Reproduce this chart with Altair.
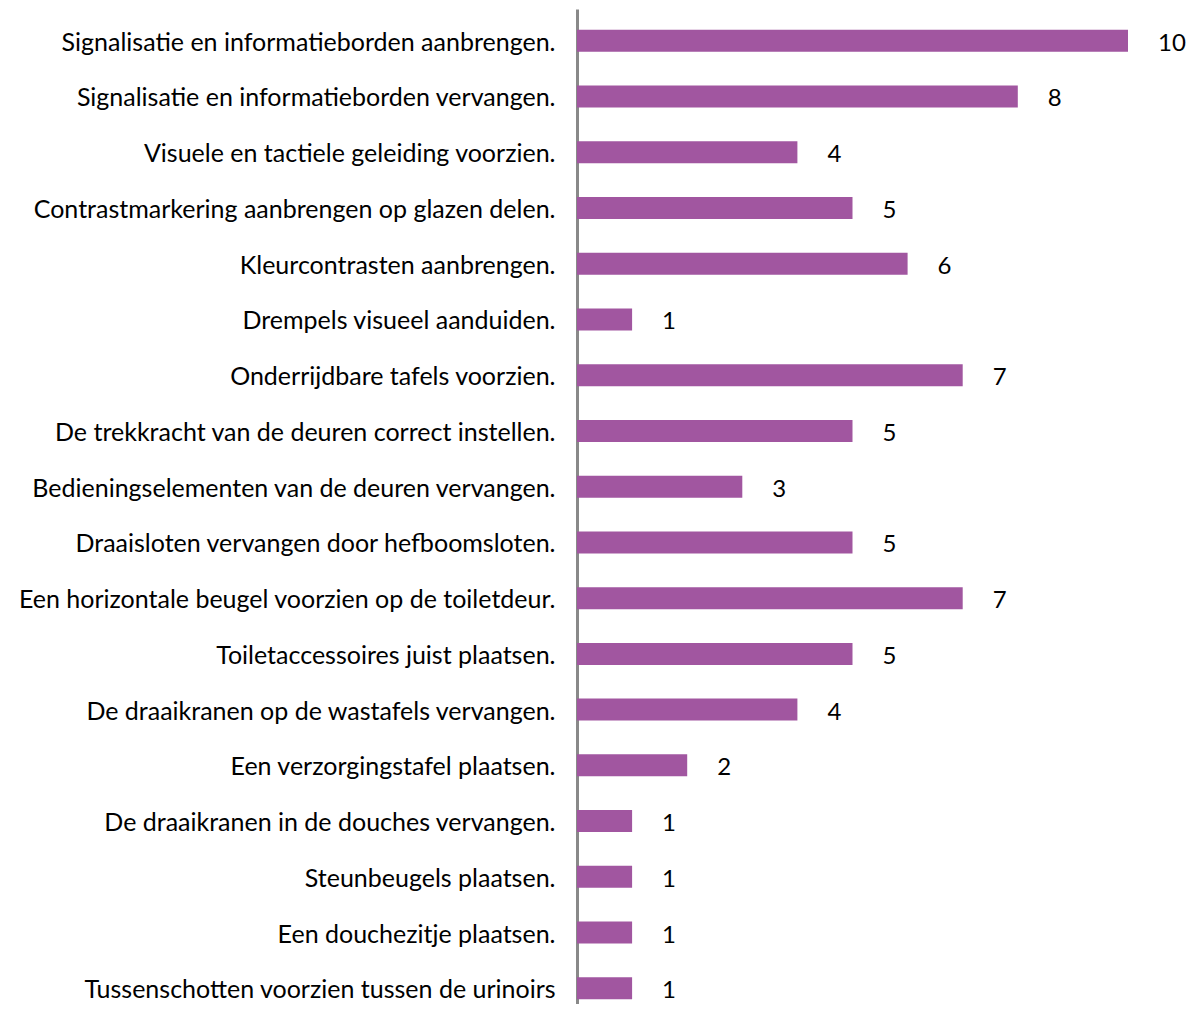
import altair as alt
import pandas as pd

categories = [
    "Signalisatie  en informatieborden  aanbrengen.",
    "Signalisatie  en informatieborden  vervangen.",
    "Visuele en tactiele geleiding voorzien.",
    "Contrastmarkering aanbrengen op glazen delen.",
    "Kleurcontrasten aanbrengen.",
    "Drempels visueel aanduiden.",
    "Onderrijdbare tafels voorzien.",
    "De trekkracht van de deuren correct instellen.",
    "Bedieningselementen van de deuren vervangen.",
    "Draaisloten vervangen door hefboomsloten.",
    "Een horizontale  beugel voorzien op de toiletdeur.",
    "Toiletaccessoires juist plaatsen.",
    "De draaikranen op de wastafels  vervangen.",
    "Een verzorgingstafel plaatsen.",
    "De draaikranen in de douches vervangen.",
    "Steunbeugels plaatsen.",
    "Een douchezitje plaatsen.",
    "Tussenschotten voorzien tussen de urinoirs",
]
values = [10, 8, 4, 5, 6, 1, 7, 5, 3, 5, 7, 5, 4, 2, 1, 1, 1, 1]

df = pd.DataFrame({"cat": categories, "val": values})

FONT = "Lato"

y = alt.Y(
    "cat:N",
    sort=categories,
    title=None,
    scale=alt.Scale(paddingInner=0.6, paddingOuter=0.225, align=0.82),
    axis=alt.Axis(
        domainColor="#898989",
        domainWidth=3,
        ticks=False,
        labelFontSize=25,
        labelFont=FONT,
        labelColor="#000000",
        labelPadding=22,
        labelOffset=2,
        labelLimit=0,
    ),
)
x = alt.X("val:Q", scale=alt.Scale(domain=[0, 10], nice=False), axis=None, title=None)

bars = alt.Chart(df).mark_bar(color="#A156A0", size=22).encode(x=x, y=y)
labels = alt.Chart(df).mark_text(
    align="left", baseline="middle", dx=30, dy=3, fontSize=24, font=FONT, color="#000000"
).encode(x=x, y=y, text="val:Q")

chart = (
    alt.layer(bars, labels)
    .properties(
        width=551,
        height=995,
        autosize=alt.AutoSizeParams(type="none"),
        padding={"left": 569, "top": 1, "right": 60, "bottom": 0},
    )
    .configure_view(stroke=None)
    .configure_axis(grid=False)
)

chart.save("out.html", embed_options={"renderer": "svg", "actions": False})
